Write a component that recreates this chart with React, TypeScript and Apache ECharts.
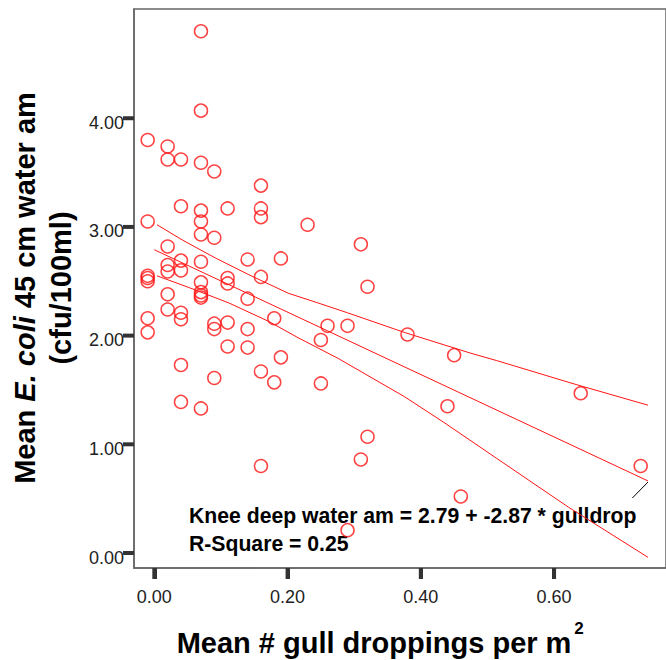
import React, { useEffect, useRef } from "react";
import * as echarts from "echarts";

// Scatter data: mean gull droppings per m2 (x) vs mean E. coli (y)
const gullX = [
  -0.01, -0.01, -0.01, -0.01, -0.01, -0.01, -0.01,
  0.02, 0.02, 0.02, 0.02, 0.02, 0.02, 0.02,
  0.04, 0.04, 0.04, 0.04, 0.04, 0.04, 0.04, 0.04,
  0.07, 0.07, 0.07, 0.07, 0.07, 0.07, 0.07, 0.07, 0.07, 0.07, 0.07, 0.07,
  0.09, 0.09, 0.09, 0.09, 0.09,
  0.11, 0.11, 0.11, 0.11, 0.11,
  0.14, 0.14, 0.14, 0.14,
  0.16, 0.16, 0.16, 0.16, 0.16, 0.16,
  0.18, 0.18,
  0.19, 0.19,
  0.23,
  0.25, 0.25,
  0.26,
  0.29, 0.29,
  0.31, 0.31,
  0.32, 0.32,
  0.38,
  0.44,
  0.45,
  0.46,
  0.64,
  0.73,
];
const ecoliY = [
  3.80, 3.05, 2.55, 2.53, 2.50, 2.16, 2.03,
  3.74, 3.62, 2.82, 2.65, 2.59, 2.38, 2.24,
  3.62, 3.19, 2.69, 2.60, 2.21, 2.15, 1.73, 1.39,
  4.80, 4.07, 3.59, 3.15, 3.05, 2.93, 2.68, 2.49, 2.40, 2.37, 2.35, 1.33,
  3.51, 2.90, 2.11, 2.06, 1.61,
  3.17, 2.53, 2.48, 2.12, 1.90,
  2.70, 2.34, 2.06, 1.89,
  3.38, 3.17, 3.09, 2.54, 1.67, 0.80,
  2.16, 1.57,
  2.71, 1.80,
  3.02,
  1.96, 1.56,
  2.09,
  2.09, 0.21,
  2.84, 0.86,
  2.45, 1.07,
  2.01,
  1.35,
  1.82,
  0.52,
  1.47,
  0.80,
];

// Fit line and 95% confidence band of the mean
const fitLine = [
  [0.0, 2.79],
  [0.741, 0.663],
];
const upperBand = [
  [0.004, 3.02], [0.042, 2.88], [0.093, 2.71], [0.142, 2.56], [0.201, 2.39],
  [0.246, 2.3], [0.29, 2.21], [0.375, 2.03], [0.474, 1.84], [0.514, 1.77],
  [0.633, 1.55], [0.741, 1.36],
];
const lowerBand = [
  [0.004, 2.55], [0.053, 2.44], [0.112, 2.3], [0.172, 2.13], [0.216, 1.98],
  [0.276, 1.79], [0.375, 1.44], [0.435, 1.2], [0.514, 0.87], [0.622, 0.42],
  [0.741, -0.04],
];
const pointerLine = [
  [0.741, 0.653],
  [0.7175, 0.506],
];

const xTicks = [0, 0.2, 0.4, 0.6];
const yTicks = [0, 1, 2, 3, 4];

const X_MIN = -0.0305;
const X_MAX = 0.768;
const Y_MIN = -0.138;
const Y_MAX = 5.005;

const FONT = "'Liberation Sans', Arial, Helvetica, sans-serif";
const RED = "#ff1414";
const TICK = "#333";

export default function App() {
  const ref = useRef<HTMLDivElement>(null);
  useEffect(() => {
    document.body.style.margin = "0";
    const chart = echarts.init(ref.current!, null, { renderer: "svg" });
    const points = gullX.map((x, i) => [x, ecoliY[i]]);
    const baseGraphics: any[] = [
      {
        id: "eq",
        type: "text",
        x: 189,
        y: 515,
        style: {
          text: "Knee deep water am = 2.79 + -2.87 * gulldrop",
          font: `bold 21.2px ${FONT}`,
          fill: "#000",
          textVerticalAlign: "middle",
        },
      },
      {
        id: "r2",
        type: "text",
        x: 189,
        y: 543,
        style: {
          text: "R-Square = 0.25",
          font: `bold 21.2px ${FONT}`,
          fill: "#000",
          textVerticalAlign: "middle",
        },
      },
      {
        id: "xt",
        type: "text",
        x: 374,
        y: 643,
        style: {
          text: "Mean # gull droppings per m",
          font: `bold 29px ${FONT}`,
          fill: "#000",
          textAlign: "center",
          textVerticalAlign: "middle",
        },
      },
      {
        id: "xtsup",
        type: "text",
        x: 579,
        y: 628,
        style: {
          text: "2",
          font: `bold 17px ${FONT}`,
          fill: "#000",
          textAlign: "center",
          textVerticalAlign: "middle",
        },
      },
      {
        id: "yt1",
        type: "text",
        x: 25,
        y: 288,
        rotation: Math.PI / 2,
        style: {
          text: "Mean {i|E. coli} 45 cm water am",
          font: `bold 29px ${FONT}`,
          fill: "#000",
          textAlign: "center",
          textVerticalAlign: "middle",
          rich: {
            i: {
              fontStyle: "italic",
              fontWeight: "bold",
              fontSize: 29,
              fontFamily: FONT,
              fill: "#000",
            },
          },
        },
      },
      {
        id: "yt2",
        type: "text",
        x: 61,
        y: 288,
        rotation: Math.PI / 2,
        style: {
          text: "(cfu/100ml)",
          font: `bold 29px ${FONT}`,
          fill: "#000",
          textAlign: "center",
          textVerticalAlign: "middle",
        },
      },
    ];
    const option: any = {
      animation: false,
      backgroundColor: "#ffffff",
      grid: {
        left: 134,
        top: 9,
        right: -5,
        bottom: 92,
        show: true,
        borderColor: "#666",
        borderWidth: 1.5,
        backgroundColor: "transparent",
      },
      xAxis: {
        type: "value",
        min: X_MIN,
        max: X_MAX,
        splitLine: { show: false },
        axisLine: { show: true, onZero: false, lineStyle: { color: "#666", width: 1.5 } },
        axisTick: {
          show: true,
          customValues: xTicks,
          length: 11,
          lineStyle: { color: TICK, width: 4 },
        },
        axisLabel: {
          customValues: xTicks,
          formatter: (v: number) => v.toFixed(2),
          fontSize: 18,
          fontFamily: FONT,
          color: "#222",
          margin: 20,
        },
      },
      yAxis: {
        type: "value",
        min: Y_MIN,
        max: Y_MAX,
        splitLine: { show: false },
        axisLine: { show: true, onZero: false, lineStyle: { color: "#666", width: 1.5 } },
        axisTick: { show: false },
        axisLabel: {
          customValues: yTicks,
          formatter: (v: number) => `{v|${v.toFixed(2)}}`,
          margin: 10,
          rich: {
            v: {
              fontSize: 18,
              fontFamily: FONT,
              color: "#222",
              padding: [9, 0, 0, 0],
            },
          },
        },
      },
      series: [
        {
          type: "line",
          data: upperBand,
          showSymbol: false,
          silent: true,
          lineStyle: { color: RED, width: 1 },
        },
        {
          type: "line",
          data: fitLine,
          showSymbol: false,
          silent: true,
          lineStyle: { color: RED, width: 1 },
        },
        {
          type: "line",
          data: lowerBand,
          showSymbol: false,
          silent: true,
          lineStyle: { color: RED, width: 1 },
        },
        {
          type: "line",
          data: pointerLine,
          showSymbol: false,
          silent: true,
          lineStyle: { color: "#000", width: 1 },
        },
        {
          type: "scatter",
          data: points,
          symbol: "circle",
          symbolSize: 13,
          itemStyle: {
            color: "rgba(0,0,0,0)",
            borderColor: RED,
            borderWidth: 1.5,
          },
        },
      ],
      graphic: baseGraphics,
    };
    chart.setOption(option);

    // Thick outside tick marks, placed through the axes' own scales
    const tickLen = 11;
    let x0 = chart.convertToPixel({ xAxisIndex: 0 }, X_MIN) as number;
    let yBottom = chart.convertToPixel({ yAxisIndex: 0 }, Y_MIN) as number;
    if (!isFinite(x0)) x0 = 134;
    if (!isFinite(yBottom)) yBottom = 568;
    const tickGraphics: any[] = [];
    xTicks.forEach((v, i) => {
      const px = chart.convertToPixel({ xAxisIndex: 0 }, v) as number;
      tickGraphics.push({
        id: `xtick${i}`,
        type: "line",
        silent: true,
        z: 100,
        shape: { x1: px, y1: yBottom, x2: px, y2: yBottom + tickLen },
        style: { stroke: TICK, lineWidth: 4 },
      });
    });
    yTicks.forEach((v, i) => {
      const py = chart.convertToPixel({ yAxisIndex: 0 }, v) as number;
      tickGraphics.push({
        id: `ytick${i}`,
        type: "line",
        silent: true,
        z: 100,
        shape: { x1: x0 - tickLen, y1: py, x2: x0, y2: py },
        style: { stroke: TICK, lineWidth: 4 },
      });
    });
    chart.setOption({ graphic: baseGraphics.concat(tickGraphics) });

    return () => chart.dispose();
  }, []);
  return <div ref={ref} style={{ width: 666, height: 660 }} />;
}
